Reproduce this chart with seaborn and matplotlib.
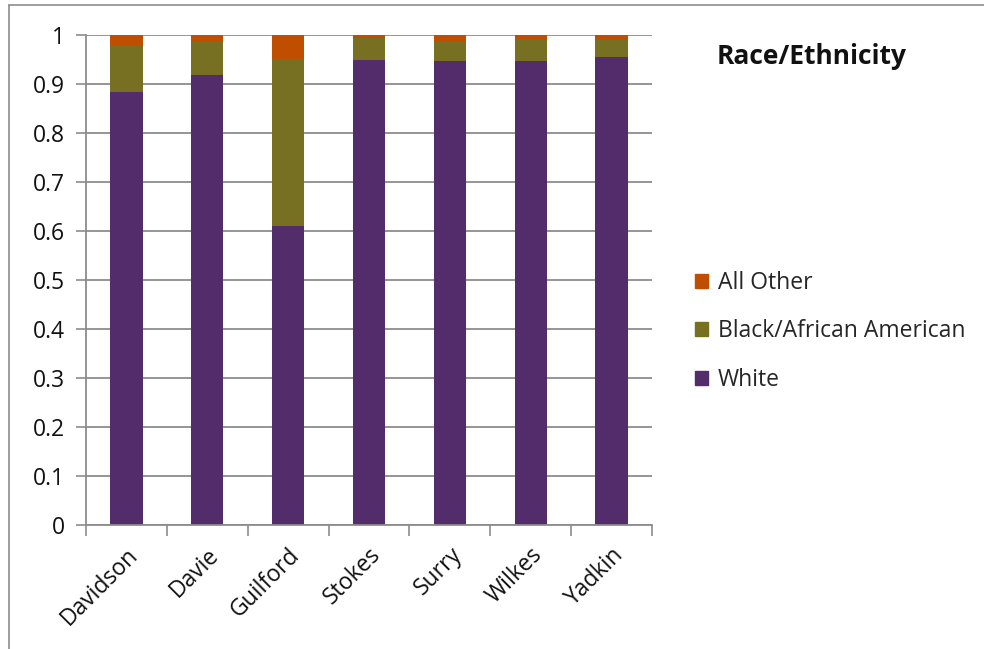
import matplotlib
matplotlib.use("Agg")
import matplotlib.pyplot as plt
import matplotlib.patches as mpatches
from matplotlib.lines import Line2D
import seaborn as sns
import pandas as pd
import numpy as np

counties = ["Davidson", "Davie", "Guilford", "Stokes", "Surry", "Wilkes", "Yadkin"]
white = [0.883, 0.919, 0.611, 0.949, 0.947, 0.947, 0.955]
black = [0.096, 0.068, 0.339, 0.045, 0.041, 0.045, 0.035]
other = [0.021, 0.013, 0.050, 0.006, 0.012, 0.008, 0.010]
series_names = ["All Other", "Black/African American", "White"]
yticks = [0, 0.1, 0.2, 0.3, 0.4, 0.5, 0.6, 0.7, 0.8, 0.9, 1]

colors = {"White": "#532c6b", "Black/African American": "#777022", "All Other": "#c04e00"}

df = pd.DataFrame({"County": counties, "White": white,
                   "Black/African American": black, "All Other": other})
df["cum_white"] = df["White"]
df["cum_black"] = df["cum_white"] + df["Black/African American"]
df["cum_other"] = df["cum_black"] + df["All Other"]

sns.set_theme(style="white")
plt.rcParams["font.family"] = ["Open Sans", "DejaVu Sans"]
FS = 16.5

fig = plt.figure(figsize=(9.84, 6.49), dpi=100)
ax = fig.add_axes([86 / 984, 1 - 525 / 649, (652 - 86) / 984, (525 - 35) / 649])

for col, name in [("cum_other", "All Other"), ("cum_black", "Black/African American"),
                  ("cum_white", "White")]:
    sns.barplot(data=df, x="County", y=col, color=colors[name], width=0.4,
                saturation=1, ax=ax, linewidth=0, errorbar=None)

ax.set_ylim(0, 1)
ax.set_xlim(-0.5, len(counties) - 0.5)
ax.set_yticks(yticks)
ax.set_yticklabels([f"{t:g}" for t in yticks], fontsize=FS, color="#111111")
ax.yaxis.grid(True, color="#8c8c8c", linewidth=1.3)
ax.set_axisbelow(True)
ax.set_xlabel("")
ax.set_ylabel("")

for s in ["top", "right"]:
    ax.spines[s].set_visible(False)
for s in ["left", "bottom"]:
    ax.spines[s].set_color("#8c8c8c")
    ax.spines[s].set_linewidth(1.3)

ax.tick_params(axis="y", which="major", left=True, length=7, width=1.2,
               color="#8c8c8c", pad=8)
# category labels at bar centres, tick marks at category boundaries
ax.set_xticks(range(len(counties)))
ax.set_xticklabels(counties, rotation=45, ha="right", rotation_mode="anchor",
                   fontsize=FS, color="#111111")
ax.tick_params(axis="x", which="major", bottom=False, pad=7)
ax.set_xticks(np.arange(-0.5, len(counties) + 0.5, 1), minor=True)
ax.tick_params(axis="x", which="minor", bottom=True, length=8, width=1.2,
               color="#8c8c8c")

handles = [mpatches.Patch(color=colors[n], label=n) for n in series_names]
leg = fig.legend(handles=handles, loc="upper left",
                 bbox_to_anchor=(686 / 984, 1 - 262 / 649), frameon=False,
                 fontsize=FS, handlelength=0.58, handleheight=0.58,
                 handletextpad=0.4, labelspacing=1.06, borderaxespad=0)

fig.text(717 / 984, 1 - 57 / 649, "Race/Ethnicity", fontsize=19, fontweight="bold",
         va="center", ha="left", color="#111111")

# chart frame
fig.add_artist(Line2D([9 / 984, 9 / 984], [0, 1 - 5 / 649], transform=fig.transFigure,
                      color="#8c8c8c", linewidth=1.2))
fig.add_artist(Line2D([9 / 984, 1], [1 - 5 / 649, 1 - 5 / 649], transform=fig.transFigure,
                      color="#8c8c8c", linewidth=1.2))

fig.savefig("out.png", dpi=100)
